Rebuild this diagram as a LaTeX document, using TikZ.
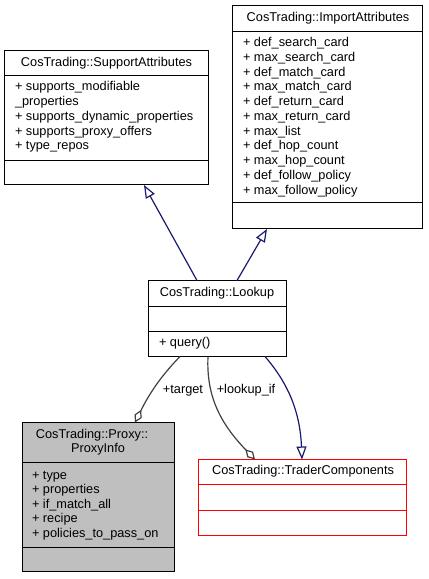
\documentclass[tikz,border=0pt]{standalone}
\usepackage{fontspec}
\setmainfont{Liberation Sans}
\usetikzlibrary{arrows.meta,calc}
\definecolor{edgeblue}{HTML}{191970}
\definecolor{edgegray}{HTML}{404040}
\definecolor{boxgray}{HTML}{BFBFBF}
\definecolor{boxred}{HTML}{FF0000}
\begin{document}
\begin{tikzpicture}[x=1bp,y=-1bp,
  cls/.style={draw=black, line width=1.2bp, anchor=north west, inner sep=0pt, outer sep=0pt},
  redcls/.style={draw=boxred, line width=1.2bp, anchor=north west, inner sep=0pt, outer sep=0pt},
  txt/.style={font=\fontsize{12.8}{14.7}\selectfont, inner sep=0pt, outer sep=0pt},
  sepline/.style={draw=black, line width=1.2bp},
  redsep/.style={draw=boxred, line width=1.2bp},
  inherit/.style={draw=edgeblue, line width=1.2bp, -{Triangle[open, length=13bp, width=10bp]}},
  aggr/.style={draw=edgegray, line width=1.2bp, -{Diamond[open, length=14bp, width=8bp]}}]
\useasboundingbox (0,0) rectangle (428,579);

% ---------- SupportAttributes ----------
\node[cls, minimum width=204bp, minimum height=134bp] (sa) at (4.5,50.5) {};
\draw[sepline] ($(sa.north west)+(0,25)$) -- ($(sa.north east)+(0,25)$);
\draw[sepline] ($(sa.north west)+(0,110)$) -- ($(sa.north east)+(0,110)$);
\node[txt, anchor=base] (sa-title) at (106.5,66.5) {CosTrading::SupportAttributes};
\foreach \t [count=\i from 0] in {+ supports\_modifiable, \_properties, + supports\_dynamic\_properties, + supports\_proxy\_offers, + type\_repos}
  \node[txt, anchor=base west] (sa-l\i) at (15,{91+14.7*\i}) {\t};

% ---------- ImportAttributes ----------
\node[cls, minimum width=190bp, minimum height=223bp] (ia) at (232.5,5.5) {};
\draw[sepline] ($(ia.north west)+(0,26)$) -- ($(ia.north east)+(0,26)$);
\draw[sepline] ($(ia.north west)+(0,197)$) -- ($(ia.north east)+(0,197)$);
\node[txt, anchor=base] (ia-title) at (328,22) {CosTrading::ImportAttributes};
\foreach \t [count=\i from 0] in {+ def\_search\_card, + max\_search\_card, + def\_match\_card, + max\_match\_card, + def\_return\_card, + max\_return\_card, + max\_list, + def\_hop\_count, + max\_hop\_count, + def\_follow\_policy, + max\_follow\_policy}
  \node[txt, anchor=base west] (ia-l\i) at (243,{46.7+14.73*\i}) {\t};

% ---------- Lookup ----------
\node[cls, minimum width=138bp, minimum height=76bp] (lk) at (148.5,280.5) {};
\draw[sepline] ($(lk.north west)+(0,26)$) -- ($(lk.north east)+(0,26)$);
\draw[sepline] ($(lk.north west)+(0,51)$) -- ($(lk.north east)+(0,51)$);
\node[txt, anchor=base] (lk-title) at (217,296) {CosTrading::Lookup};
\node[txt, anchor=base west] (lk-m0) at (159,346.7) {+ query()};

% ---------- Proxy::ProxyInfo ----------
\node[cls, fill=boxgray, minimum width=152bp, minimum height=149bp] (pi) at (22.5,422.5) {};
\draw[sepline] ($(pi.north west)+(0,40)$) -- ($(pi.north east)+(0,40)$);
\draw[sepline] ($(pi.north west)+(0,125)$) -- ($(pi.north east)+(0,125)$);
\node[txt, anchor=base] (pi-title1) at (92,438.3) {CosTrading::Proxy::};
\node[txt, anchor=base] (pi-title2) at (98,452.3) {ProxyInfo};
\foreach \t [count=\i from 0] in {+ type, + properties, + if\_match\_all, + recipe, + policies\_to\_pass\_on}
  \node[txt, anchor=base west] (pi-l\i) at (32,{479+14.6*\i}) {\t};

% ---------- TraderComponents ----------
\node[redcls, minimum width=208bp, minimum height=76bp] (tc) at (198.5,459.5) {};
\draw[redsep] ($(tc.north west)+(0,25)$) -- ($(tc.north east)+(0,25)$);
\draw[redsep] ($(tc.north west)+(0,51)$) -- ($(tc.north east)+(0,51)$);
\node[txt, anchor=base] (tc-title) at (303,474) {CosTrading::TraderComponents};

% ---------- connector end points ----------
\coordinate (lk-n1) at (197,280.5);
\coordinate (lk-n2) at (237,280.5);
\coordinate (lk-s1) at (180,356.5);
\coordinate (lk-s2) at (208,356.5);
\coordinate (lk-s3) at (265,356.5);
\coordinate (sa-s) at (144,185);
\coordinate (ia-s) at (267,229);
\coordinate (pi-n) at (135,422.5);
\coordinate (tc-n1) at (255,459.5);
\coordinate (tc-n2) at (302,459.5);

% ---------- connectors ----------
\draw[inherit] (lk-n1) -- (sa-s);
\draw[inherit] (lk-n2) -- (ia-s);
\draw[aggr] (lk-s1) .. controls (166,371) and (152,388) .. (pi-n);
\draw[aggr] (lk-s2) .. controls (206,398) and (222,425) .. (tc-n1);
\draw[inherit] (lk-s3) .. controls (287,382) and (300,410) .. (tc-n2);

\node[txt, anchor=base] (lbl-target) at (183,393) {+target};
\node[txt, anchor=base] (lbl-lookup) at (246,393) {+lookup\_if};
\end{tikzpicture}
\end{document}
